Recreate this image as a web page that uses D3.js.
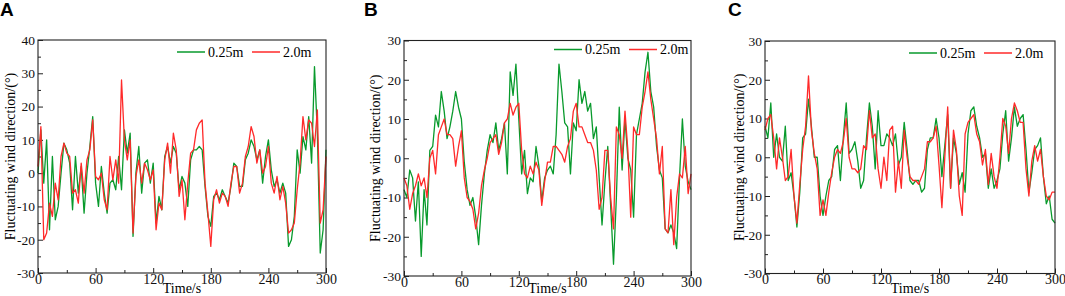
<!DOCTYPE html>
<html>
<head>
<meta charset="utf-8">
<script src="https://cdn.jsdelivr.net/npm/d3@7"></script>
<style>
  body { margin: 0; background: #fff; }
  svg { display: block; }
  .tick text { font-family: "Liberation Serif", "Times New Roman", serif; fill: #111; }
</style>
</head>
<body>
<script>
const width = 1065
const height = 296

// sampling grid, seconds
const time = d3.range(0, 301, 3)

const xTicks = [0, 60, 120, 180, 240, 300]
const yTicksA = [-30, -20, -10, 0, 10, 20, 30, 40]
const yTicksBC = [-30, -20, -10, 0, 10, 20, 30]
const seriesNames = ['0.25m', '2.0m']
const panelLabels = ['A', 'B', 'C']

// panel A
const aGreen = [0, 13, -3, 10, -17, 5, -14, -10, 0, 9, 7, 3, -11, 5, -6, 2, -12, 0, 8, 17, -3,
  -10, 2, -6, -12, -3, -2, -5, 5, -5, 13, 6, 12, -19, 0, 8, -6, 3, 4, -3, 3,
  -15, -7, -11, 5, 8, 3, 8, 6, -5, -1, -3, -10, 4, 7, 7, 8, 7, -4, -13, -16,
  -7, -6, -8, -5, -7, -9, -4, 3, 2, -4, -4, 4, 6, 10, 8, 4, 7, -3, 5, 10,
  1, -4, -2, -6, -3, -6, -22, -20, -13, 7, 0, 11, 7, 17, 3, 32, 12, -24, -17, 7]
const aRed = [2, 14, -20, -18, -9, -13, -3, -8, 5, 9, 6, 5, -6, -5, -9, 3, -6, 4, 7, 16, -1,
  -2, 0, -8, -11, 5, -2, 4, -3, 28, 10, 4, 10, -18, -1, 4, -3, 3, 1, -2, 1,
  -17, -9, -11, 4, 9, 0, 12, 7, -7, -2, -14, -3, 6, 7, 13, 15, 16, -3, -12, -22,
  -8, -5, -9, -6, -7, -10, -3, 2, 2, -6, -3, 5, 8, 14, 11, 3, 7, 0, 2, 8,
  -3, -6, -1, -8, -4, -9, -18, -17, -15, -5, 3, 17, 10, 16, 15, 8, 19, -15, -11, 5]

// panel B
const bGreen = [-8, -10, -3, -5, -16, -6, -25, -8, -17, 2, 3, 11, 8, 17, 12, 5, 8, 12, 17, 13, 10,
  -1, -8, -12, -10, -15, -22, -12, -4, 2, 6, 4, 9, 2, 5, 9, -4, 22, 16, 24, 10,
  -4, 2, -9, -5, -6, 3, -2, -11, -5, -3, -2, -4, 6, 24, 17, 9, 8, -4, 9, 7,
  20, 14, 17, 12, 14, 5, 8, -5, -17, -6, 3, -12, -27, -10, 13, -3, 10, 0, -3, -15,
  6, 10, 14, 22, 27, 17, 13, 3, -3, -5, -18, -19, -17, -19, -23, -5, 10, -2, -6, -8]
const bRed = [-5, -7, -13, -9, -7, -4, -7, -5, -10, 0, 2, -4, 6, 8, 10, 6, 6, 5, -2, 3, 7,
  -5, -10, -11, -13, -18, -14, -7, -3, 0, 4, 5, 6, 1, 4, 9, 10, 14, 11, 13, 14,
  2, -4, -5, -2, -4, -1, -3, -12, -6, -1, -1, 3, 3, 2, 1, -1, 3, 5, 12, 14,
  8, 8, 6, 4, 4, 2, -3, -13, -10, 2, 2, -10, -18, 8, 6, 0, 12, 2, -15, 8,
  6, 6, 13, 17, 22, 15, 10, 5, -4, 3, -18, -19, -8, -22, -10, -4, -5, 3, -9, -4]

// panel C
const cGreen = [8, 5, 14, 0, 6, 0, -1, 8, -6, -4, -10, -18, -9, 5, 6, 15, 8, 0, 0, -10, -15,
  -10, -6, -5, 2, 3, -6, 5, 14, 1, 2, 4, -1, -8, -6, 5, 14, 8, -3, 12, 3,
  3, 6, 5, 3, 6, -2, 0, 9, 2, -6, -7, -6, -6, -9, -8, 2, 5, 5, 10, 5,
  -5, 3, 11, -8, 5, 1, -7, -4, -9, 6, 12, 13, 8, 5, 0, 1, -8, -3, -8, -6,
  -3, 6, 12, -1, 5, 13, 8, 10, 11, 2, -9, -4, 2, 3, 5, -5, -12, -10, -16, -17]
const cRed = [7, 10, 11, 5, -3, 5, 0, -6, -5, 2, -10, -17, -7, 2, 8, 21, 7, 1, -3, -15, -11,
  -15, -9, -4, 0, 2, 1, 4, 10, 0, -3, -3, -4, -3, 3, 2, 12, 5, 6, -3, -8,
  0, -6, 7, 8, -9, -1, -8, 7, 0, -5, -6, -6, -7, -5, -3, 4, 4, 5, 8, -2,
  -13, 0, 13, -8, 7, 2, -10, -15, 6, 9, 10, 11, 6, 4, -2, 2, -7, 1, -5, -8,
  0, 10, 8, 1, 10, 14, 12, 9, 9, -3, -10, -1, 3, -1, 2, -5, -10, -11, -9, -9]

const colors = ['#089a2c', '#ff2a2a']
const serif = '"Liberation Serif", "Times New Roman", serif'

const panels = [
  { x0: 0, left: 38, right: 326, top: 40, bottom: 273, yDomain: [-30, 40], yTicks: yTicksA,
    series: [aGreen, aRed], titleX: 10, legendX: 177, legendY: 52 },
  { x0: 364, left: 404, right: 691, top: 40.5, bottom: 276, yDomain: [-30, 30], yTicks: yTicksBC,
    series: [bGreen, bRed], titleX: 375, legendX: 554, legendY: 49.5 },
  { x0: 728, left: 765, right: 1055, top: 41, bottom: 273.5, yDomain: [-30, 30], yTicks: yTicksBC,
    series: [cGreen, cRed], titleX: 739, legendX: 909, legendY: 53 }
]

const svg = d3.select('body').append('svg').attr('width', width).attr('height', height)

panels.forEach((p, i) => drawPanel(p, panelLabels[i]))

function drawPanel(p, label) {
  const g = svg.append('g')

  const x = d3.scaleLinear().domain([0, 300]).range([p.left, p.right])
  const y = d3.scaleLinear().domain(p.yDomain).range([p.bottom, p.top])

  // minor ticks (inward)
  const xMinor = d3.range(30, 300, 60)
  const yMinor = d3.range(p.yDomain[0] + 5, p.yDomain[1], 10)

  g.append('g')
    .attr('transform', `translate(0,${p.bottom})`)
    .call(d3.axisBottom(x).tickValues(xTicks).tickSize(-5).tickFormat(d => String(d)))
    .call(ax => ax.select('.domain').remove())
    .call(ax => ax.selectAll('text').attr('font-size', 14).attr('y', 1).attr('dy', '0.71em'))

  g.append('g')
    .attr('transform', `translate(0,${p.bottom})`)
    .call(d3.axisBottom(x).tickValues(xMinor).tickSize(-3).tickFormat(''))
    .call(ax => ax.select('.domain').remove())

  g.append('g')
    .attr('transform', `translate(${p.left},0)`)
    .call(d3.axisLeft(y).tickValues(p.yTicks).tickSize(-5).tickFormat(d => String(d)))
    .call(ax => ax.select('.domain').remove())
    .call(ax => ax.selectAll('text').attr('font-size', 13.5).attr('x', -3))

  g.append('g')
    .attr('transform', `translate(${p.left},0)`)
    .call(d3.axisLeft(y).tickValues(yMinor).tickSize(-3).tickFormat(''))
    .call(ax => ax.select('.domain').remove())

  g.selectAll('.tick line').attr('stroke', '#222')

  // lines
  const line = d3.line().x((d, i) => x(time[i])).y(d => y(d))
  g.selectAll('path.series')
    .data(p.series)
    .join('path')
    .attr('class', 'series')
    .attr('d', line)
    .attr('fill', 'none')
    .attr('stroke', (d, i) => colors[i])
    .attr('stroke-width', 1.3)
    .attr('stroke-linejoin', 'round')

  // frame
  g.append('rect')
    .attr('x', p.left).attr('y', p.top)
    .attr('width', p.right - p.left).attr('height', p.bottom - p.top)
    .attr('fill', 'none').attr('stroke', '#222').attr('stroke-width', 1.1)

  // legend
  const lg = g.append('g').attr('transform', `translate(${p.legendX},${p.legendY})`)
  const offsets = [0, 75]
  seriesNames.forEach((name, i) => {
    lg.append('line')
      .attr('x1', offsets[i]).attr('x2', offsets[i] + 28)
      .attr('y1', 0).attr('y2', 0)
      .attr('stroke', colors[i]).attr('stroke-width', 1.5)
    lg.append('text')
      .attr('x', offsets[i] + 31).attr('y', 4.5)
      .attr('font-family', serif).attr('font-size', 14)
      .text(name)
  })

  // axis titles
  g.append('text')
    .attr('transform', `translate(${p.titleX},${(p.top + p.bottom) / 2}) rotate(-90)`)
    .attr('text-anchor', 'middle').attr('dy', '0.35em')
    .attr('font-family', serif).attr('font-size', 14)
    .text('Fluctuating wind direction/(°)')

  g.append('text')
    .attr('x', (p.left + p.right) / 2).attr('y', 293)
    .attr('text-anchor', 'middle')
    .attr('font-family', serif).attr('font-size', 14)
    .text('Time/s')

  // panel letter
  g.append('text')
    .attr('x', p.x0).attr('y', 16)
    .attr('font-family', '"Liberation Sans Narrow", "Liberation Sans", Arial, sans-serif')
    .attr('font-weight', 'bold').attr('font-size', 19)
    .text(label)
}
</script>
</body>
</html>
